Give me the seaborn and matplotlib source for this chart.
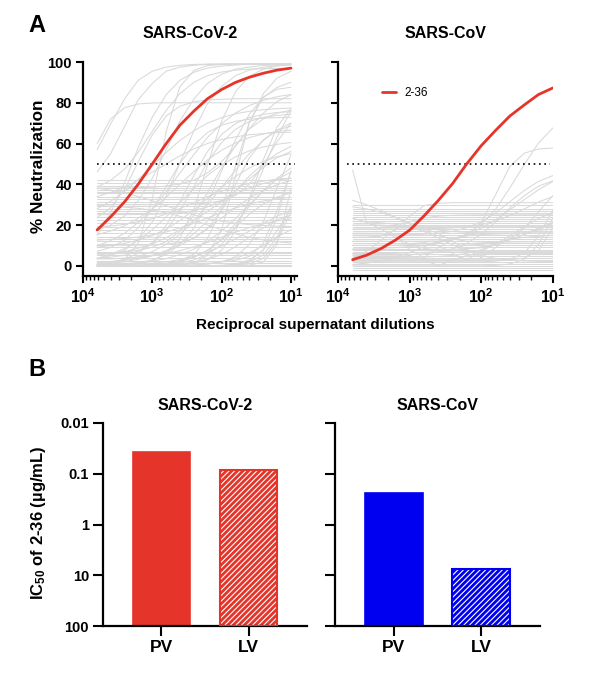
import numpy as np
import pandas as pd
import matplotlib
matplotlib.use("Agg")
import matplotlib.pyplot as plt
import seaborn as sns
from matplotlib.ticker import FixedLocator, LogLocator, NullFormatter, NullLocator

# ---------------- data ----------------
# reciprocal dilutions at which curves are read off the picture
dilutions = [6250, 4000, 2500, 1600, 1000, 630, 400, 250, 160, 100, 63, 40, 25, 16, 10]

# SARS-CoV-2 panel: non-neutralizing (flat) curves, % neutralization level
sc2_flat = [0, 0.5, 1.5, 2.5, 4, 5.5, 6.5, 7, 9, 10.5, 12, 13, 14, 16, 17.5, 19,
            21, 22.5, 24, 26, 27, 28, 29.5, 30.5, 31.5, 33, 34, 35.5, 36, 37,
            38, 39, 40.5, 42]
# SARS-CoV-2 panel: fitted curves (values at the dilutions above)
sc2_curves = [
    [57, 69.5, 82, 91, 95.5, 97.5, 98.4, 98.8, 99, 99, 99, 99, 99, 99, 99],
    [15, 26, 41, 58, 73, 84, 91, 95, 97, 98, 98.5, 99, 99, 99, 99],
    [46, 55, 68.5, 81.5, 89.5, 95.5, 97.5, 98.4, 98.8, 99, 99, 99, 99, 99, 99],
    [17.5, 20, 24.5, 32, 43, 57, 71, 82, 89.5, 94, 96.5, 97.5, 98.3, 98.6, 98.8],
    [3.5, 5, 7.7, 13, 21.5, 34.5, 50.5, 66.5, 79.5, 88, 93.3, 96, 97.4, 98.2, 98.6],
    [0, 0.2, 0.4, 1, 2.5, 6, 13.5, 28, 49.5, 71, 85.5, 93, 96.5, 98, 98.6],
    [0, 0, 0, 0.1, 0.4, 1, 2.5, 5.8, 13.4, 28, 49, 70, 84.5, 92, 95.5],
    [0, 0, 0.1, 0.2, 0.4, 0.8, 1.5, 2.9, 5.6, 10.6, 19, 31.7, 47.5, 63, 76],
    [60, 72, 77.6, 79.4, 79.9, 80, 80, 80, 80, 80, 80, 80, 80, 80, 80],
    [23.7, 28.5, 37.7, 51, 64.3, 73.5, 78.3, 80.5, 81.4, 81.7, 82, 82, 82, 82, 82],
    [0, 0, 0, 0, 0, 0.1, 0.4, 1.4, 5.2, 17.7, 44, 70.3, 82.8, 86.6, 87.6],
    [9.8, 12.4, 16, 21.3, 28, 36.3, 45.5, 54.7, 63, 69.7, 75, 78.6, 81.2, 83, 84],
    [1.2, 1.9, 2.9, 4.5, 7, 10.5, 15.5, 22, 30, 38.5, 47, 55, 61.5, 66.5, 70],
    [3.6, 4.2, 5.2, 7.2, 11, 17.5, 27, 39, 51, 60.5, 67, 70.8, 72.8, 73.8, 74.4],
    [28, 31.7, 36.5, 42.4, 49, 55.6, 61.5, 66.3, 70, 72.7, 74.6, 75.8, 76.6, 77.1, 77.4],
    [0, 0, 0, 0, 0, 0, 0.1, 0.3, 0.8, 1.9, 4.5, 10.4, 21.7, 38, 54.3],
    [7.1, 9, 12.6, 18.7, 27.7, 39, 50.3, 59.3, 65.4, 69, 70.9, 71.9, 72.5, 72.7, 72.9],
    [0.8, 1.3, 2, 3.2, 4.9, 7.4, 11, 15.8, 22, 29.2, 36.8, 44, 50.2, 55, 58.6],
    [15.3, 17.1, 19.7, 23.3, 28, 33.7, 40, 46.3, 52, 56.7, 60.3, 62.9, 64.7, 65.9, 66.6],
    [0, 0, 0, 0, 0, 0, 0, 0, 0, 0, 0.6, 2.2, 7.8, 23.4, 46.6],
    [34, 36, 38.6, 42, 46, 50, 54, 57.4, 60, 62, 63.3, 64.3, 64.9, 65.3, 65.6],
    [0.4, 0.6, 1, 1.5, 2.3, 3.5, 5.5, 8.2, 12, 17.1, 23.2, 30, 36.8, 42.9, 48],
    [9.2, 9.9, 11, 12.6, 14.9, 18, 22.3, 27.4, 33, 38.7, 43.8, 48, 51.2, 53.5, 55],
    [0, 0, 0, 0, 0, 0, 0, 0, 0, 0, 0.6, 1.8, 5.3, 13.9, 29],
    [0, 0.1, 0.2, 0.3, 0.6, 1.1, 2.2, 4.1, 7.6, 13.1, 20.7, 29.3, 36.9, 42.5, 45.9],
    [5.3, 6, 7, 8.6, 10.8, 13.8, 17.7, 22.2, 26.8, 31.3, 35.2, 38.2, 40.4, 42, 43],
    [19, 19.5, 20.4, 21.6, 23.2, 25.4, 28.1, 31, 33.9, 36.6, 38.8, 40.4, 41.6, 42.5, 43],
    [0, 0, 0, 0, 0, 0, 0, 0, 0, 0, 0.3, 1, 3.7, 11.8, 26.4],
    [1.7, 2.1, 2.7, 3.7, 5.1, 7.2, 10, 13.8, 18.4, 23.5, 28.6, 33.2, 37, 39.8, 41.9],
    [0, 0.1, 0.2, 0.3, 0.6, 1.2, 2.2, 4.3, 7.6, 12.7, 19, 25.3, 30.4, 33.7, 35.8],
    [12.6, 13, 13.4, 14.1, 15.2, 16.6, 18.6, 20.9, 23.5, 26.1, 28.4, 30.4, 31.8, 32.9, 33.6],
    [0.2, 0.3, 0.5, 0.9, 1.3, 2, 3.1, 4.7, 6.8, 9.7, 13.2, 17, 20.8, 24.3, 27.2],
    [0, 0, 0, 0, 0, 0, 0, 0, 0, 0.3, 0.9, 2.8, 7.7, 17.1, 28.2],
    [0, 0, 0, 0.1, 0.2, 0.4, 0.9, 1.7, 3.1, 5.6, 9.4, 14, 18.6, 22.4, 24.9],
    [3.4, 3.4, 3.8, 4.3, 5, 6, 7.4, 9.3, 11.5, 14, 16.5, 18.7, 20.6, 22, 23],
    [0, 0, 0, 0, 0.1, 0.1, 0.3, 0.5, 1, 2, 3.6, 6.3, 9.9, 14.1, 17.7],
    [38.1, 37.1, 35.8, 34, 31.9, 29.5, 27.1, 25, 23.2, 21.9, 20.9, 20.2, 19.8, 19.5, 19.3],
    [29.5, 29.2, 28.8, 28.2, 27.3, 26, 24.3, 22.3, 20, 17.7, 15.7, 14, 12.7, 11.8, 11.2],
    [0, 0, 0, 0, 0, 0, 0, 0, 0, 0, 0, 0.3, 1.9, 10.3, 37.5],
    [2, 2, 2, 2, 2, 2, 2, 2, 2, 2, 2.7, 4.6, 11.1, 26.8, 46.3],
    [0.8, 1.7, 3.3, 6.2, 11.5, 19.9, 31.5, 44.5, 56.1, 64.5, 69.8, 72.7, 74.3, 75.2, 75.6],
    [6, 6.4, 6.8, 7.6, 9.1, 11.9, 16.9, 24.9, 35.8, 48.2, 59.1, 67.1, 72.1, 74.9, 76.4],
    [38.7, 41.9, 47.5, 55.7, 66, 76.3, 84.5, 90.1, 93.3, 95.1, 96, 96.5, 96.7, 96.8, 96.9],
    [0.2, 0.8, 3.1, 11.1, 33.1, 65.9, 87.9, 95.9, 98.2, 98.8, 99, 99, 99, 99, 99],
    [0, 0, 0, 0, 0.1, 0.2, 0.5, 1.4, 3.2, 7.7, 17.1, 32.9, 52.1, 67.9, 77.3],
    [10, 10, 10.1, 10.1, 10.2, 10.6, 11.5, 13.5, 18.2, 27.1, 40, 52.9, 61.8, 66.5, 68.5],
    [25.1, 25.1, 25.1, 25.2, 25.3, 25.6, 26.1, 27.1, 28.9, 32, 36.7, 42.5, 48.3, 53, 56.1],
    [30, 30, 30, 30, 30, 30.1, 30.1, 30.3, 30.8, 31.9, 34.6, 40, 49.4, 60.7, 70],
    [38.1, 38.1, 38.2, 38.3, 38.6, 39.1, 40.2, 42.1, 45.6, 51.1, 58.7, 67.3, 74.9, 80.5, 83.9],
    [3.7, 5.6, 8.5, 12.5, 17.7, 24, 31, 38, 44.3, 49.5, 53.5, 56.4, 58.3, 59.6, 60.5],
    [0.2, 0.4, 0.7, 1.5, 2.9, 5.5, 10.4, 18.7, 31.1, 46.5, 61.9, 74.3, 82.6, 87.5, 90.1],
]

# SARS-CoV panel
sc1_flat = [-2, -1, 0, 1, 2, 3, 4, 5, 6, 7, 8, 9, 10, 11, 12, 13, 14, 15, 16,
            17, 18, 19, 20, 21, 22, 23, 24, 25, 26, 27, 28, 30]
sc1_curves = [
    [47, 21, 19.5, 19.3, 19.2, 19.2, 19.2, 19.2, 19.2, 19.2, 19.2, 19.2, 19.2, 19.2, 19.2],
    [32.1, 30, 27.1, 23.9, 21, 18.9, 17.6, 16.8, 16.4, 16.2, 16.1, 16.1, 16.1, 16.1, 16.1],
    [10, 10, 10.1, 10.1, 10.4, 10.7, 11.5, 12.9, 15.6, 20.3, 27.8, 38.2, 49.8, 60.2, 67.7],
    [12, 12, 12, 12, 12, 12.1, 12.2, 12.7, 14.7, 21.2, 35, 48.8, 55.3, 57.3, 57.8],
    [15.1, 15.1, 15.1, 15.2, 15.3, 15.5, 16, 16.9, 18.7, 21.6, 26, 31.5, 37, 41.4, 44.3],
    [5.1, 5.1, 5.2, 5.2, 5.4, 5.9, 6.7, 8.3, 11, 15.5, 21.6, 28.4, 34.5, 39, 41.7],
    [8, 8, 8, 8, 8, 8, 8.1, 8.1, 8.4, 8.9, 10.2, 13.1, 18.5, 26.5, 34.5],
    [2, 2, 2, 2, 2, 2, 2, 2, 2, 2, 2.3, 3.2, 6.3, 14.7, 27.3],
    [18.1, 18.1, 18.1, 18.1, 18.1, 18.2, 18.3, 18.6, 19.2, 20.2, 22, 24.7, 28, 31.3, 34],
    [0, 0, 0, 0, 0, 0, 0, 0, 0, 0, 0.2, 0.9, 3.3, 10.5, 23.4],
    [12, 12, 12, 12, 12, 11.5, 10, 6, 3, 7, 11, 13, 14, 14.5, 15],
    [20, 20, 20, 19.5, 19, 18, 16, 12, 8, 4, 9, 14, 16.5, 17.5, 18],
    [23.4, 21.4, 18, 14, 10.6, 8.6, 7.7, 7.3, 7.1, 7.1, 7.1, 7.1, 7.1, 7.1, 7.1],
    [4, 4, 4.1, 4.1, 4.2, 4.3, 4.6, 5.1, 6.1, 7.9, 10.8, 14.8, 19.2, 23.2, 26.1],
    [14, 14.1, 14.6, 17.4, 24.4, 29.5, 30.7, 31, 31, 31, 31, 31, 31, 31, 31],
    [3, 3, 3, 3, 3, 3, 3, 3, 3, 3, 3, 3, 3.8, 7.4, 19],
    [10, 10, 10, 10, 10, 10, 10, 10, 10.2, 10.5, 11.3, 12.8, 15.4, 18.6, 21.2],
    [0.7, 1.3, 2.4, 4.2, 6.6, 9.4, 11.8, 13.6, 14.7, 15.3, 15.6, 15.8, 15.9, 15.9, 16],
    [28.9, 27.9, 26.2, 23.7, 20.5, 17.3, 14.8, 13.1, 12.1, 11.6, 11.3, 11.2, 11.1, 11.1, 11.1],
    [6.1, 6.1, 6.2, 6.2, 6.4, 6.6, 6.9, 7.4, 8.2, 9.3, 10.8, 12.8, 15.3, 18, 20.7],
    [8.3, 8.4, 8.6, 8.9, 9.4, 10.1, 11.3, 12.9, 15.3, 18.6, 22.7, 27.5, 32.5, 37.3, 41.4],
    [21.8, 21.6, 21.1, 20.4, 19, 16.8, 13.7, 10.3, 7.2, 5, 3.6, 2.9, 2.4, 2.2, 2.1],
    [16, 16, 16, 15, 8, 4, 9, 13, 15, 16, 16, 16, 16, 16, 16],
    [6, 6, 6, 6, 5, 3, 0, 3, 5, 6, 6, 6, 6, 6, 6],
    [3.4, 7.1, 12.5, 17.9, 21.6, 23.5, 24.4, 24.8, 24.9, 25, 25, 25, 25, 25, 25],
]

# antibody 2-36 fitted curves (values at the dilutions above)
red_sc2 = [17.6, 24, 31.5, 40, 50, 60, 69, 76, 82, 86.5, 90, 92.5, 94.5, 96, 97]
red_sc1 = [3.0, 5.2, 8.5, 12.5, 17.5, 24.5, 32, 40.5, 50, 59, 66.5, 73.5, 79, 84, 87.3]

# IC50 of 2-36 (ug/mL)
virus_types = ["PV", "LV"]
ic50_sc2 = [0.037, 0.085]
ic50_sc1 = [0.24, 7.6]

RED = "#e5352a"
BLUE = "#0000f0"
GRAY = "#d9d9d9"

# ---------------- style ----------------
sns.set_theme(style="ticks")
plt.rcParams["font.family"] = ["Liberation Sans", "DejaVu Sans"]
plt.rcParams["font.weight"] = "bold"
plt.rcParams["axes.labelweight"] = "bold"
plt.rcParams["mathtext.fontset"] = "custom"
plt.rcParams["mathtext.rm"] = "Liberation Sans:bold"
plt.rcParams["mathtext.bf"] = "Liberation Sans:bold"
plt.rcParams["mathtext.it"] = "Liberation Sans:bold"
plt.rcParams["mathtext.default"] = "rm"
plt.rcParams["hatch.linewidth"] = 0.8
plt.rcParams["axes.linewidth"] = 1.6
for key in ["text.color", "axes.labelcolor", "xtick.color", "ytick.color",
            "axes.edgecolor"]:
    plt.rcParams[key] = "black"


def gray_frame(flat, curves):
    rows = []
    k = 0
    for lvl in flat:
        for d in (dilutions[0], dilutions[-1]):
            rows.append((k, d, lvl))
        k += 1
    for c in curves:
        for d, v in zip(dilutions, c):
            rows.append((k, d, v))
        k += 1
    return pd.DataFrame(rows, columns=["curve", "dilution", "neut"])


fig = plt.figure(figsize=(5.98, 6.8), dpi=100)
W, H = 598.0, 680.0

axA1 = fig.add_axes([83 / W, (H - 276) / H, 214 / W, 214 / H])
axA2 = fig.add_axes([338 / W, (H - 276) / H, 215 / W, 214 / H])
axB1 = fig.add_axes([103 / W, (H - 626) / H, 204 / W, 203 / H])
axB2 = fig.add_axes([335 / W, (H - 626) / H, 205 / W, 203 / H])

panelsA = [
    (axA1, sc2_flat, sc2_curves, red_sc2, 10 ** 0.913, (0.065, 0.99)),
    (axA2, sc1_flat, sc1_curves, red_sc1, 10, (0.04, 0.986)),
]
for ax, flat, curves, red, xr, dot in panelsA:
    ax.set_xscale("log")
    df = gray_frame(flat, curves)
    sns.lineplot(data=df, x="dilution", y="neut", units="curve", estimator=None,
                 color=GRAY, lw=0.75, ax=ax, legend=False, zorder=1)
    ax.axhline(50, xmin=dot[0], xmax=dot[1], color="black", lw=1.2,
               ls=(0, (1, 2.2)), zorder=2)
    rdf = pd.DataFrame({"dilution": dilutions, "neut": red})
    sns.lineplot(data=rdf, x="dilution", y="neut", color=RED, lw=2.0, ax=ax,
                 label="2-36" if ax is axA2 else None, zorder=3)
    ax.set_xlim(1e4, xr)
    ax.set_ylim(-5, 100)
    ax.set_xlabel("")
    ax.set_ylabel("")
    ax.xaxis.set_major_locator(FixedLocator([1e4, 1e3, 1e2, 1e1]))
    ax.set_xticklabels([r"$10^{4}$", r"$10^{3}$", r"$10^{2}$", r"$10^{1}$"],
                       fontsize=11.5)
    ax.xaxis.set_minor_locator(LogLocator(base=10, subs=np.arange(2, 10), numticks=20))
    ax.xaxis.set_minor_formatter(NullFormatter())
    ax.set_yticks([0, 20, 40, 60, 80, 100])
    ax.tick_params(axis="y", which="major", labelsize=10.5)
    ax.tick_params(axis="both", which="major", length=5, width=1.5, pad=3,
                   direction="out")
    ax.tick_params(axis="x", which="minor", length=3, width=1.0, direction="out")
    sns.despine(ax=ax)

axA2.set_yticklabels([])
if axA1.get_legend() is not None:
    axA1.get_legend().remove()
axA2.legend(loc="center left", bbox_to_anchor=(0.205, 0.855), frameon=False,
            prop={"size": 8.5, "weight": "normal"}, handlelength=1.2,
            handletextpad=0.7, borderpad=0, borderaxespad=0)

# ---------------- panel B ----------------
panelsB = [(axB1, ic50_sc2, RED), (axB2, ic50_sc1, BLUE)]
for ax, vals, col in panelsB:
    ax.set_yscale("log")
    xpos = np.arange(len(virus_types))
    # PV solid bar
    ax.bar(xpos[0], 100 - vals[0], bottom=vals[0], width=0.66, color=col,
           edgecolor=col, lw=1.2, zorder=2)
    # LV hatched bar
    ax.bar(xpos[1], 100 - vals[1], bottom=vals[1], width=0.66, color=col,
           edgecolor="white", lw=0, hatch="//////", zorder=2)
    ax.bar(xpos[1], 100 - vals[1], bottom=vals[1], width=0.66, fill=False,
           edgecolor=col, lw=1.5, zorder=3)
    ax.set_xlim(-0.67, 1.67)
    ax.set_ylim(100, 0.01)
    ax.set_yticks([0.01, 0.1, 1, 10, 100])
    ax.set_yticklabels(["0.01", "0.1", "1", "10", "100"])
    ax.yaxis.set_minor_locator(NullLocator())
    ax.set_xticks(xpos)
    ax.set_xticklabels(virus_types, fontsize=12.5)
    ax.tick_params(axis="y", which="major", labelsize=10.5)
    ax.tick_params(axis="both", which="major", length=7, width=1.5, pad=3,
                   direction="out")
    sns.despine(ax=ax)
axB2.set_yticklabels([])

# ---------------- texts ----------------
def ftext(x, y, s, **kw):
    fig.text(x / W, 1 - y / H, s, **kw)

ftext(28, 25, "A", fontsize=17, fontweight="bold", ha="left", va="center")
ftext(28, 369, "B", fontsize=17, fontweight="bold", ha="left", va="center")
ftext(190, 33, "SARS-CoV-2", fontsize=11.5, fontweight="bold", ha="center", va="center")
ftext(445.5, 33, "SARS-CoV", fontsize=11.5, fontweight="bold", ha="center", va="center")
ftext(205, 405, "SARS-CoV-2", fontsize=11.5, fontweight="bold", ha="center", va="center")
ftext(437.5, 405, "SARS-CoV", fontsize=11.5, fontweight="bold", ha="center", va="center")
ftext(39, 166, "% Neutralization", fontsize=12.3, fontweight="bold", ha="center",
      va="center", rotation=90)
ftext(315, 325, "Reciprocal supernatant dilutions", fontsize=11, fontweight="bold",
      ha="center", va="center")
ftext(39, 523, r"IC$_{50}$ of 2-36 (µg/mL)", fontsize=12, fontweight="bold",
      ha="center", va="center", rotation=90)

fig.savefig("out.png", dpi=100)
